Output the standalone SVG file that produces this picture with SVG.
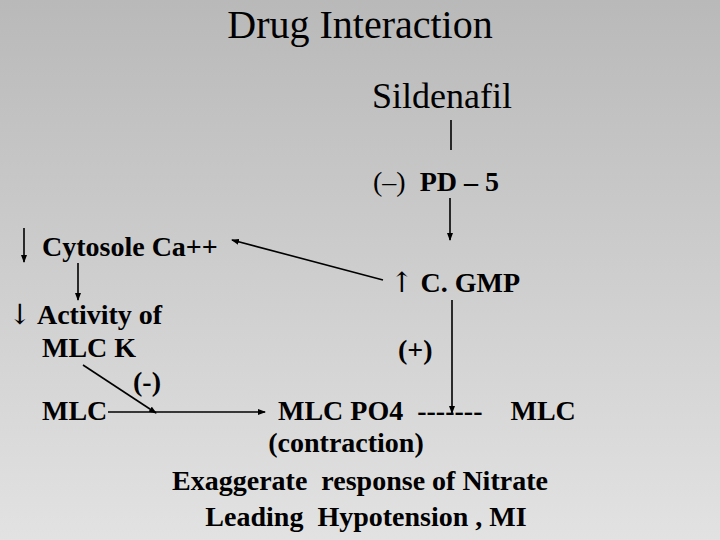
<svg xmlns="http://www.w3.org/2000/svg" width="720" height="540" viewBox="0 0 720 540">
<defs>
<linearGradient id="bg" x1="0" y1="0" x2="0" y2="1"><stop offset="0" stop-color="#b9b9b9"/><stop offset="1" stop-color="#e2e2e2"/></linearGradient>
<marker id="ah" markerWidth="8" markerHeight="6" refX="7" refY="3" orient="auto" markerUnits="userSpaceOnUse"><path d="M0,0 L8,3 L0,6 Z" fill="#000"/></marker>
<style>
text{font-family:"Liberation Serif","Times New Roman",serif;fill:#000}
.b{font-weight:bold;font-size:28px}
.ar{font-family:"DejaVu Serif",serif;font-weight:normal;fill:#000}
.c line{stroke:#000;stroke-width:1.6}
.a{marker-end:url(#ah)}
</style>
</defs>
<rect width="720" height="540" fill="url(#bg)"/>
<g id="title"><text x="360" y="38" font-size="40" text-anchor="middle">Drug Interaction</text></g>
<g id="sildenafil"><text x="372" y="108" font-size="36">Sildenafil</text></g>
<g id="pd5"><text x="373" y="191" font-size="28" xml:space="preserve">(–)  <tspan font-weight="bold">PD – 5</tspan></text></g>
<g id="ca"><text x="42" y="256" class="b">Cytosole Ca++</text></g>
<g id="cgmp"><text x="390" y="292" class="b" xml:space="preserve"><tspan class="ar">↑</tspan> C. GMP</text></g>
<g id="activity"><text x="8" y="324" class="b" xml:space="preserve"><tspan class="ar">↓</tspan> Activity of</text><text x="42" y="357" class="b">MLC K</text></g>
<g id="minus"><text x="133" y="391" class="b">(-)</text></g>
<g id="plus"><text x="398" y="359" class="b">(+)</text></g>
<g id="mlc"><text x="42" y="420" class="b">MLC</text></g>
<g id="mlcpo4"><text x="278" y="420" class="b" xml:space="preserve">MLC PO4  -------    MLC</text></g>
<g id="result" text-anchor="middle"><text x="346" y="452" class="b">(contraction)</text><text x="360" y="490" class="b" xml:space="preserve">Exaggerate  response of Nitrate</text><text x="366" y="526" class="b" xml:space="preserve">Leading  Hypotension , MI</text></g>
<g class="c" id="connectors">
<line x1="451" y1="120" x2="451" y2="150"/>
<line class="a" x1="450" y1="198" x2="450" y2="240"/>
<line class="a" x1="24" y1="228" x2="24" y2="262"/>
<line class="a" x1="383" y1="280" x2="232" y2="240"/>
<line class="a" x1="78" y1="263" x2="78" y2="300"/>
<line class="a" x1="452" y1="300" x2="452" y2="413"/>
<line class="a" x1="83" y1="365" x2="156" y2="413"/>
<line class="a" x1="108" y1="412" x2="265" y2="412"/>
</g>
</svg>
